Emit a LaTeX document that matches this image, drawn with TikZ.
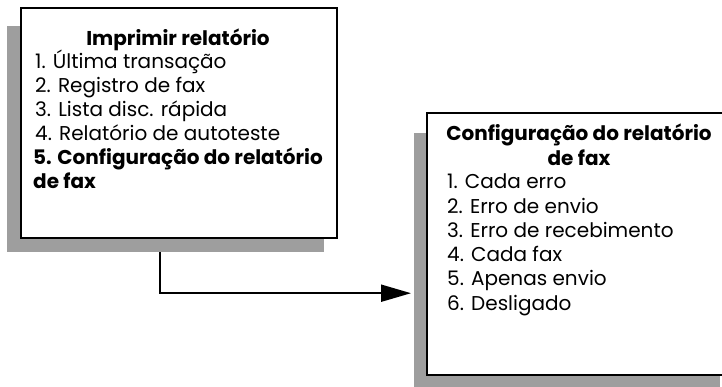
\documentclass[tikz,border=0pt]{standalone}
\usepackage{fontspec}
\setmainfont{Poppins}
\usetikzlibrary{arrows.meta,positioning,calc}
\definecolor{shadowgray}{RGB}{158,158,158}
\newcommand{\menufont}{\fontsize{20}{24}\selectfont}

\begin{document}
\begin{tikzpicture}[x=1pt,y=-1pt]
\tikzset{
  shadowbox/.style={fill=shadowgray,inner sep=0pt,anchor=north west},
  menubox/.style={draw,line width=2pt,fill=white,inner sep=0pt,anchor=north west},
  menutitle/.style={font=\menufont\bfseries,inner sep=0pt,anchor=base},
  menuitem/.style={font=\menufont,inner sep=0pt,anchor=base west},
  menubold/.style={menuitem,font=\menufont\bfseries},
}
\useasboundingbox (0,0) rectangle (722,387);

% Shadows
\node[shadowbox,minimum width=317pt,minimum height=226pt] (impshadow) at (7,26) {};
\node[shadowbox,minimum width=306pt,minimum height=254pt] (cfgshadow) at (414,133) {};

% Menu frames
\node[menubox,minimum width=316pt,minimum height=230pt] (imprimir) at (20,7) {};
\node[menubox,minimum width=310pt,minimum height=262pt] (config) at (426,112) {};

% Print report menu
\node[menutitle] (imptitle) at (178,46) {Imprimir relatório};
\foreach \lab [count=\i] in {1. Última transação,2. Registro de fax,
                             3. Lista disc. rápida,4. Relatório de autoteste}
  \node[menuitem] (imp\i) at (35,45+24*\i) {\lab};
\node[menubold] (imp5) at (33,165) {5. Configuração do relatório};
\node[menubold] (imp5b) at (33,189) {de fax};

% Fax report setup menu
\node[menutitle] (cfgtitle) at (579,141) {Configuração do relatório};
\node[menutitle] (cfgtitleb) at (579,166) {de fax};
\foreach \lab [count=\i] in {1. Cada erro,2. Erro de envio,3. Erro de recebimento,
                             4. Cada fax,5. Apenas envio,6. Desligado}
  \node[menuitem] (cfg\i) at (447,164.8+24.2*\i) {\lab};

% Connector
\draw[line width=2pt,-{Triangle[length=30pt,width=17pt]},shorten >=3pt]
  ([xshift=153pt]impshadow.south west) |- ([yshift=-33pt]cfgshadow.west);

\end{tikzpicture}
\end{document}
